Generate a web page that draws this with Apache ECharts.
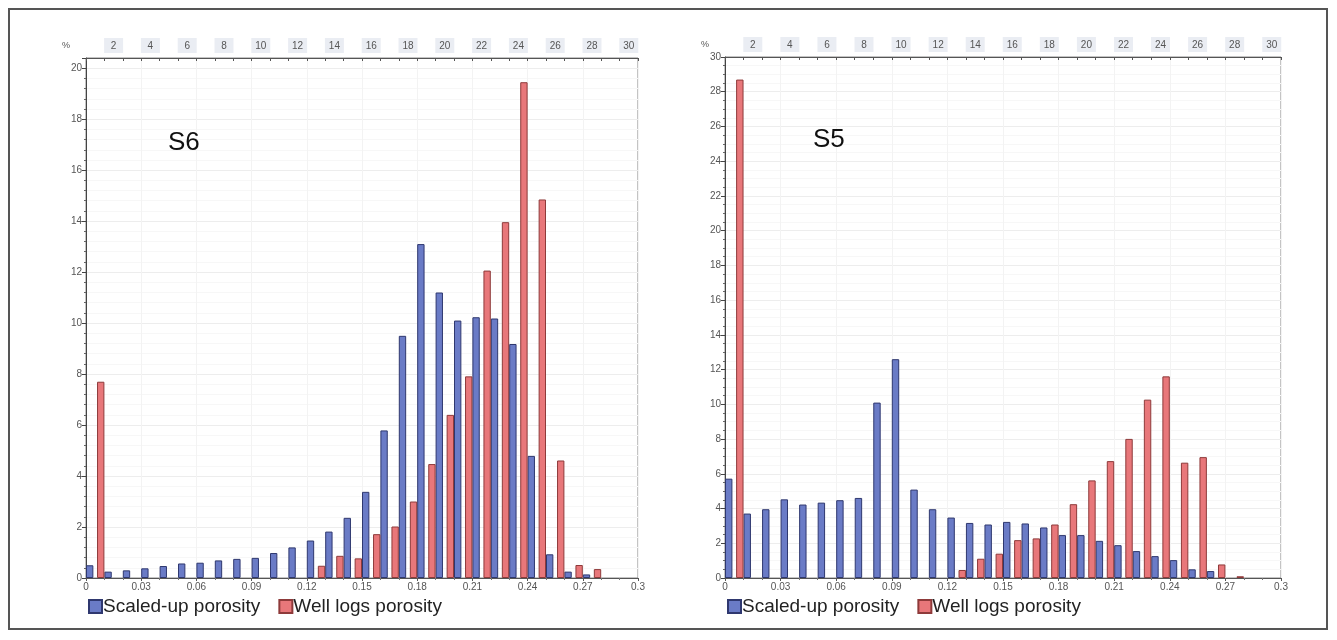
<!DOCTYPE html>
<html>
<head>
<meta charset="utf-8">
<script src="https://cdn.jsdelivr.net/npm/echarts@6/dist/echarts.min.js"></script>
<style>
html,body{margin:0;padding:0;background:#fff;}
#frame{position:absolute;left:8px;top:8px;width:1320px;height:622px;border:2px solid #555;box-sizing:border-box;}
#chart{position:absolute;left:0;top:0;width:1337px;height:640px;}
</style>
</head>
<body>
<div id="frame"></div>
<div id="chart"></div>
<script>
// Porosity bins (0.01 wide), labelled by bin number on the top axis
const binLabels = ['1','2','3','4','5','6','7','8','9','10','11','12','13','14','15','16','17','18','19','20','21','22','23','24','25','26','27','28','29','30'];
const seriesNames = ['Scaled-up porosity', 'Well logs porosity'];

// S6 histogram (%)
const s6Scaled = [0.5, 0.25, 0.3, 0.38, 0.47, 0.57, 0.6, 0.69, 0.75, 0.79, 0.98, 1.2, 1.47, 1.82, 2.36, 3.38, 5.79, 9.5, 13.1, 11.2, 10.1, 10.23, 10.18, 9.18, 4.79, 0.93, 0.25, 0.14, 0, 0];
const s6Logs   = [7.7, 0, 0, 0, 0, 0, 0, 0, 0, 0, 0, 0, 0.48, 0.87, 0.77, 1.72, 2.02, 3.0, 4.47, 6.4, 7.91, 12.06, 13.96, 19.45, 14.85, 4.61, 0.51, 0.35, 0, 0];

// S5 histogram (%)
const s5Scaled = [5.72, 3.71, 3.96, 4.53, 4.23, 4.34, 4.48, 4.61, 10.1, 12.6, 5.09, 3.96, 3.48, 3.17, 3.08, 3.23, 3.14, 2.91, 2.47, 2.47, 2.14, 1.89, 1.55, 1.26, 1.03, 0.5, 0.4, 0, 0, 0];
const s5Logs   = [28.7, 0, 0, 0, 0, 0, 0, 0, 0, 0, 0, 0, 0.46, 1.11, 1.4, 2.18, 2.28, 3.08, 4.25, 5.62, 6.73, 8.01, 10.27, 11.61, 6.64, 6.96, 0.78, 0.1, 0, 0];

const titles = ['S6', 'S5'];
const porosityMin = 0, porosityMax = 0.3, porosityStep = 0.03;

const FONT = 'Liberation Sans';
const blue = {color: '#6a7bc6', borderColor: '#2f386f', borderWidth: 1};
const red = {color: '#e8777a', borderColor: '#8e3a3a', borderWidth: 1};

const grids = [
  {left: 86, top: 58, width: 552, height: 520},
  {left: 725, top: 57, width: 556, height: 521}
];
const yMax = [20.4, 30];
const yMinorSplit = [5, 4];

function topAxis(gi) {
  return {
    type: 'category', gridIndex: gi, position: 'top', data: binLabels, boundaryGap: true,
    axisLine: {onZero: false, lineStyle: {color: '#555', width: 1}},
    axisTick: {show: true, inside: true, length: 3, interval: 0, lineStyle: {color: '#555'}},
    axisLabel: {
      interval: (idx) => idx % 2 === 1,
      fontFamily: FONT, fontSize: 10, color: '#555', margin: 5,
      backgroundColor: '#eaedf3', width: 15, align: 'center', padding: [3, 2, 2, 2]
    },
    splitLine: {show: false}
  };
}
function bottomAxis(gi) {
  return {
    type: 'value', gridIndex: gi, position: 'bottom', min: porosityMin, max: porosityMax, interval: porosityStep,
    axisLine: {onZero: false, lineStyle: {color: '#555', width: 1}},
    axisTick: {show: true, length: 3, lineStyle: {color: '#555'}},
    minorTick: {show: true, splitNumber: 3, length: 2, lineStyle: {color: '#777'}},
    axisLabel: {fontFamily: FONT, fontSize: 10, color: '#555', margin: 4},
    splitLine: {show: true, lineStyle: {color: '#f3f3f3', width: 1}}
  };
}
function leftAxis(gi) {
  return {
    type: 'value', gridIndex: gi, min: 0, max: yMax[gi], interval: 2,
    name: '%', nameLocation: 'end', nameGap: 8,
    nameTextStyle: {fontFamily: FONT, fontSize: 9, color: '#555', align: 'right', padding: [0, 16, 0, 0]},
    axisLine: {show: true, lineStyle: {color: '#444', width: 1}},
    axisTick: {show: true, length: 4, lineStyle: {color: '#444'}},
    minorTick: {show: true, splitNumber: yMinorSplit[gi], length: 2, lineStyle: {color: '#666'}},
    axisLabel: {fontFamily: FONT, fontSize: 10, color: '#555', margin: 4, showMaxLabel: gi === 1},
    splitLine: {show: true, lineStyle: {color: '#ededed', width: 1}},
    minorSplitLine: {show: true, lineStyle: {color: '#f7f7f7', width: 1}}
  };
}

// empty bins are left undrawn
const asBars = (arr) => arr.map(v => (v === 0 ? '-' : v));

const data = [[s6Scaled, s6Logs], [s5Scaled, s5Logs]];
const series = [];
data.forEach((pair, gi) => {
  series.push({
    name: seriesNames[0], type: 'bar', xAxisIndex: gi * 2, yAxisIndex: gi,
    data: asBars(pair[0]), barWidth: '40%', barGap: '50%', itemStyle: blue
  });
  series.push({
    name: seriesNames[1], type: 'bar', xAxisIndex: gi * 2, yAxisIndex: gi,
    data: asBars(pair[1]), barWidth: '40%', barGap: '50%', itemStyle: red
  });
});

const legendBase = {
  top: 597, padding: 0, data: seriesNames, icon: 'rect', itemWidth: 13, itemHeight: 13, itemGap: 18,
  textStyle: {fontFamily: FONT, fontSize: 19, color: '#222', padding: [0, 0, 0, -4]}
};

const option = {
  animation: false,
  backgroundColor: 'transparent',
  title: [
    {text: titles[0], left: 163, top: 125, textStyle: {fontFamily: FONT, fontSize: 26, fontWeight: 'normal', color: '#111'}},
    {text: titles[1], left: 808, top: 122, textStyle: {fontFamily: FONT, fontSize: 26, fontWeight: 'normal', color: '#111'}}
  ],
  legend: [
    Object.assign({left: 88}, legendBase),
    Object.assign({left: 727}, legendBase)
  ],
  grid: grids.map(g => Object.assign({show: true, borderColor: '#888', borderWidth: 1, backgroundColor: '#fff'}, g)),
  xAxis: [topAxis(0), bottomAxis(0), topAxis(1), bottomAxis(1)],
  yAxis: [leftAxis(0), leftAxis(1)],
  series: series
};

const chart = echarts.init(document.getElementById('chart'), null, {renderer: 'canvas'});
chart.setOption(option);
</script>
</body>
</html>
